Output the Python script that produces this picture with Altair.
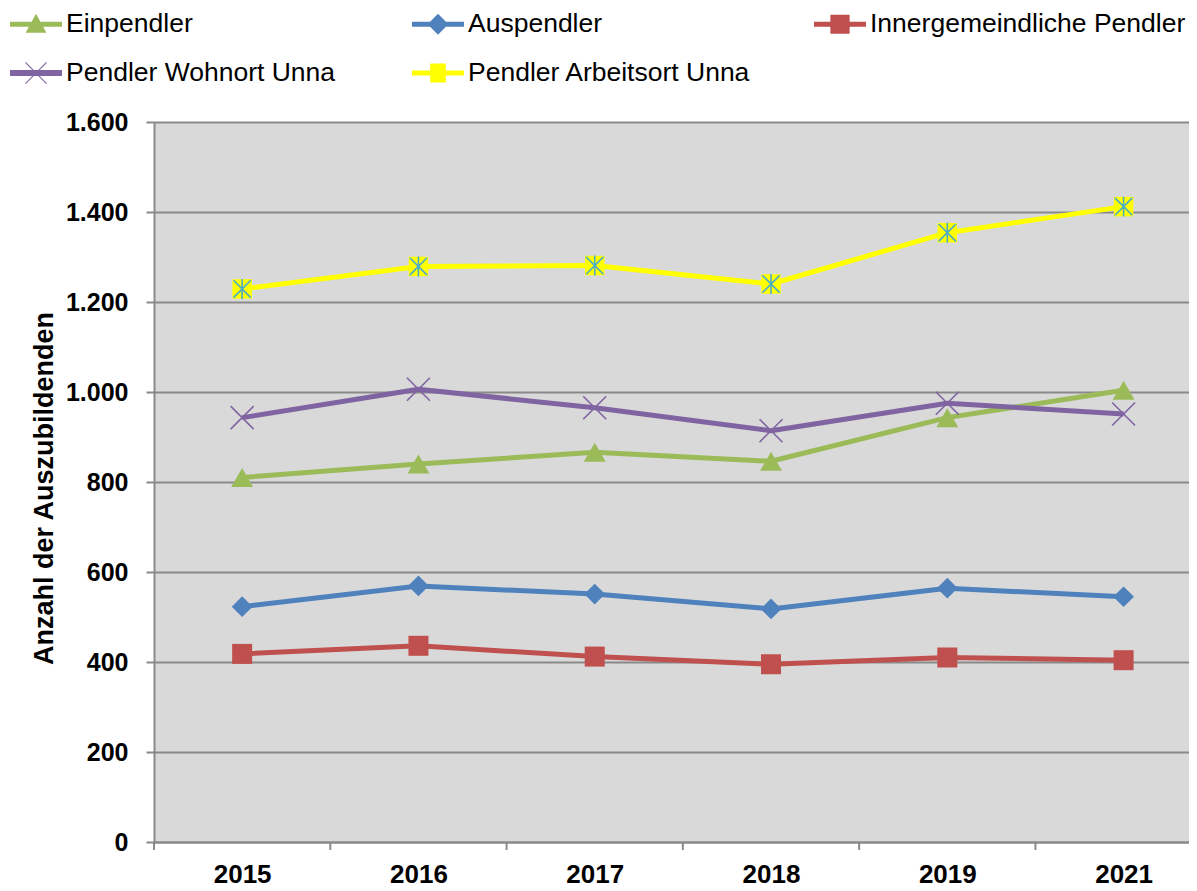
import altair as alt
import pandas as pd

years = ["2015", "2016", "2017", "2018", "2019", "2021"]
series_names = ["Einpendler", "Auspendler", "Innergemeindliche Pendler",
                "Pendler Wohnort Unna", "Pendler Arbeitsort Unna"]
einpendler = [810, 840, 866, 846, 943, 1004]
auspendler = [523, 569, 551, 518, 564, 545]
innergemeindlich = [418, 436, 412, 395, 410, 404]
wohnort_unna = [943, 1006, 965, 914, 975, 951]
arbeitsort_unna = [1229, 1279, 1281, 1240, 1354, 1412]
y_ticks = [0, 200, 400, 600, 800, 1000, 1200, 1400, 1600]

series_values = [einpendler, auspendler, innergemeindlich, wohnort_unna, arbeitsort_unna]
colors = ["#9BBB59", "#4F81BD", "#C0504D", "#8064A2", "#FFFF00"]
line_widths = [5, 5, 5, 6, 5]
FONT = "Liberation Sans"
GRID = "#898989"

rows = []
for name, vals in zip(series_names, series_values):
    for i, (yr, v) in enumerate(zip(years, vals)):
        rows.append({"series": name, "idx": i, "year": yr, "value": v})
df = pd.DataFrame(rows)
tick_df = pd.DataFrame({"pos": [i - 0.5 for i in range(len(years))]})

W, H = 1035, 720
x_scale = alt.Scale(domain=[-0.5, 5.371], nice=False, zero=False)
y_scale = alt.Scale(domain=[0, 1600], nice=False)

year_expr = "[" + ",".join("'%s'" % y for y in years) + "][datum.value]"

x_axis = alt.Axis(values=list(range(len(years))), labelExpr=year_expr, ticks=False,
                  grid=False, title=None, labelPadding=19, labelFontSize=26,
                  labelFontWeight="bold", labelFont=FONT, labelColor="black",
                  domainColor=GRID, domainWidth=2)
y_axis = alt.Axis(values=y_ticks,
                  labelExpr="replace(format(datum.value, ','), ',', '.')",
                  tickSize=8, labelPadding=18, grid=True, gridColor=GRID, gridWidth=2,
                  tickColor=GRID, tickWidth=2, domainColor=GRID, domainWidth=2,
                  labelFontSize=25, labelFontWeight="bold", labelFont=FONT,
                  labelColor="black",
                  title="Anzahl der Auszubildenden", titleFontSize=27,
                  titleFontWeight="bold", titleFont=FONT, titleColor="black",
                  titleX=-110, titleY=366, titleAlign="center", titleBaseline="middle",
                  titleAngle=270)

X = alt.X("idx:Q", scale=x_scale, axis=x_axis)
Y = alt.Y("value:Q", scale=y_scale, axis=y_axis)

base = alt.Chart(df)

lines = base.mark_line(strokeJoin="round").encode(
    x=X, y=Y,
    color=alt.Color("series:N", scale=alt.Scale(domain=series_names, range=colors), legend=None),
    strokeWidth=alt.StrokeWidth("series:N", scale=alt.Scale(domain=series_names, range=line_widths), legend=None),
    detail="series:N",
)

ticks = alt.Chart(tick_df).mark_rule(color=GRID, strokeWidth=2).encode(
    x=alt.X("pos:Q", scale=x_scale, axis=x_axis),
    y=alt.value(H), y2=alt.value(H + 8),
)

marker_specs = [
    ("Einpendler", dict(shape="triangle-up", size=480, filled=True, color="#9BBB59")),
    ("Auspendler", dict(shape="diamond", size=430, filled=True, color="#4F81BD")),
    ("Innergemeindliche Pendler", dict(shape="square", size=400, filled=True, color="#C0504D")),
    ("Pendler Wohnort Unna", dict(shape="M-1,-1L1,1M-1,1L1,-1", size=529, filled=False,
                                  color="#8064A2", strokeWidth=1.6)),
    ("Pendler Arbeitsort Unna", dict(shape="square", size=380, filled=True, color="#FFFF00")),
]
marker_layers = []
for name, kw in marker_specs:
    marker_layers.append(
        base.transform_filter(alt.datum.series == name).mark_point(opacity=1, **kw).encode(x=X, y=Y)
    )
asterisk = base.transform_filter(alt.datum.series == "Pendler Arbeitsort Unna").mark_point(
    shape="M-1,-1L1,1M-1,1L1,-1M0,-1.15L0,1.15", size=300, filled=False,
    color="#4BACC6", strokeWidth=1.6, opacity=1).encode(x=X, y=Y)

legend_paths = [
    "M-1,-0.096L1,-0.096L1,0.096L-1,0.096Z M-0.4,0.33L0,-0.4L0.4,0.33Z",
    "M-1,-0.096L1,-0.096L1,0.096L-1,0.096Z M0,-0.4L0.4,0L0,0.4L-0.4,0Z",
    "M-1,-0.096L1,-0.096L1,0.096L-1,0.096Z M-0.37,-0.37L0.37,-0.37L0.37,0.37L-0.37,0.37Z",
    "M-1,-0.115L1,-0.115L1,0.115L-1,0.115Z M-0.42,-0.39L-0.39,-0.42L0.42,0.39L0.39,0.42Z M0.39,-0.42L0.42,-0.39L-0.39,0.42L-0.42,0.39Z",
    "M-1,-0.096L1,-0.096L1,0.096L-1,0.096Z M-0.3,-0.37L0.3,-0.37L0.3,0.37L-0.3,0.37Z",
]
leg = alt.Legend(title=None, orient="none", direction="horizontal", legendX=-144, legendY=-124,
                 columns=3, gridAlign="all", columnPadding=30, rowPadding=9, padding=0,
                 labelFont=FONT, labelFontSize=26.5, labelColor="black", labelOffset=4,
                 symbolSize=2704, symbolStrokeWidth=0, symbolOpacity=1, labelLimit=0)
legend_layer = base.transform_filter("false").mark_point(filled=True, opacity=1, size=2704).encode(
    x=X, y=Y,
    color=alt.Color("series:N", scale=alt.Scale(domain=series_names, range=colors), legend=leg),
    shape=alt.Shape("series:N", scale=alt.Scale(domain=series_names, range=legend_paths), legend=leg),
)

chart = alt.layer(ticks, lines, *marker_layers, asterisk, legend_layer).resolve_scale(
    color="independent", shape="independent"
).properties(
    width=W, height=H,
    autosize=alt.AutoSizeParams(type="none"),
    padding={"left": 146, "top": 114, "right": 0, "bottom": 48},
    background="white",
).configure_view(fill="#D9D9D9", strokeWidth=0)

chart.save("out.html", embed_options={"renderer": "svg", "actions": False})
